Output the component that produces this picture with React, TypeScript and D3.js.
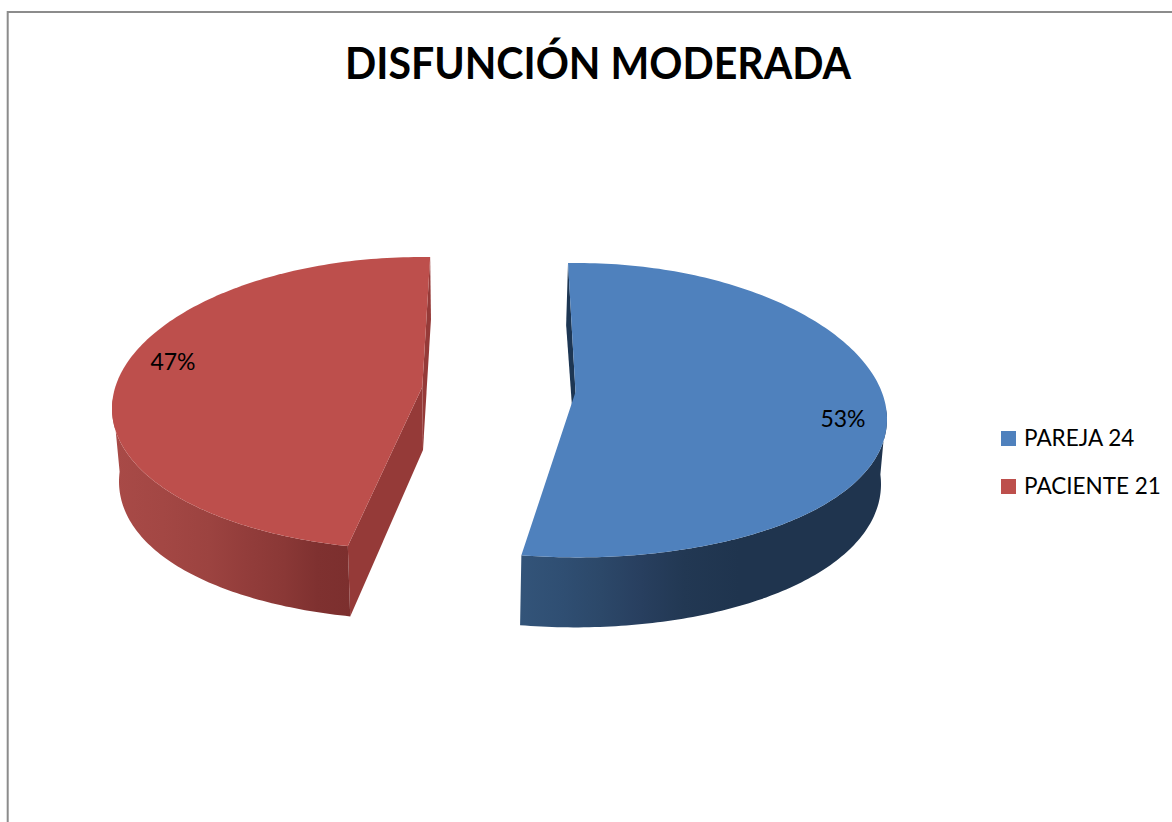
import React from "react";
import * as d3 from "d3";

const categories = ["PAREJA 24", "PACIENTE 21"];
const values = [24, 21];
const percentLabels = ["53%", "47%"];
const titleText = "DISFUNCIÓN MODERADA";

const FONT = "Lato, sans-serif";
const deg = Math.PI / 180;

type Geo = {
  cx: number; cy: number; rx: number; ry: number; phi: number;
  apex: [number, number]; apexDepth: number; sag: number;
  bcx: number; brx: number; bsag: number;
  wallFrom: number; wallTo: number;
  face: string; inner: string; grad: string; label: [number, number];
};

const geos: Geo[] = [
  { cx: 577, cy: 410.2, rx: 310, ry: 147.2, phi: -1.66, apex: [575.5, 392], apexDepth: 63, sag: 9,
    bcx: 575, brx: 306, bsag: 8,
    wallFrom: 88, wallTo: 192, face: "#4f81bd", inner: "#1d3653", grad: "gBlue", label: [843, 427] },
  { cx: 421, cy: 403.5, rx: 309, ry: 146.5, phi: 1.7, apex: [422.3, 387], apexDepth: 63, sag: 5,
    bcx: 422, brx: 303, bsag: 12,
    wallFrom: 192, wallTo: 272, face: "#bd4f4c", inner: "#953a38", grad: "gRed", label: [173, 370] },
];

const blueStops: [number, string][] = [
  [0, "#335479"], [0.12, "#2f4e72"], [0.22, "#2c4869"], [0.33, "#283f5f"], [0.45, "#223853"],
  [0.6, "#1f344e"], [1, "#1f344e"],
];
const redStops: [number, string][] = [
  [0, "#a84a47"], [0.2, "#a34744"], [0.4, "#9c4340"], [0.55, "#933d3b"], [0.72, "#8a3836"],
  [0.86, "#7f3130"], [1, "#7c2f2e"],
];

function rimTop(g: Geo, a: number): [number, number] {
  const t = (a + g.phi) * deg;
  return [g.cx + g.rx * Math.sin(t), g.cy - g.ry * Math.cos(t) + g.sag * Math.sin(t) ** 2];
}
function rimBottom(g: Geo, a: number): [number, number] {
  const t = (a + g.phi) * deg;
  const depth = 66 - 4 * Math.cos(t);
  return [
    g.bcx + g.brx * Math.sin(t),
    g.cy - g.ry * Math.cos(t) + g.bsag * Math.sin(t) ** 2 + depth,
  ];
}

const line = d3.line();

export default function App() {
  const pie = d3.pie<number>().sort(null)(values);
  const slices = pie.map((p, i) => {
    const g = geos[i];
    const a0 = p.startAngle / deg;
    const a1 = p.endAngle / deg;
    const samples = d3.range(a0, a1 + 0.01, 1).concat([a1]);
    const top = samples.map((a) => rimTop(g, a));
    const facePath = line([g.apex, ...top])! + "Z";
    const w0 = Math.max(a0, g.wallFrom);
    const w1 = Math.min(a1, g.wallTo);
    const ws = d3.range(w0, w1 + 0.01, 1).concat([w1]);
    const wallPath = line([...ws.map((a) => rimTop(g, a)), ...ws.slice().reverse().map((a) => rimBottom(g, a))])! + "Z";
    const apexB: [number, number] = [g.apex[0] + (i === 0 ? 0 : 0.7), g.apex[1] + g.apexDepth];
    const cutWalls: string[] = [];
    if (i === 0) {
      cutWalls.push(line([rimTop(g, a0), rimBottom(g, a0), apexB, g.apex])! + "Z");
    } else {
      cutWalls.push(line([rimTop(g, a1), rimBottom(g, a1), apexB, g.apex])! + "Z");
      cutWalls.push(line([rimTop(g, a0), rimBottom(g, a0), apexB, g.apex])! + "Z");
    }
    return { g, facePath, wallPath, cutWalls, i };
  });

  return (
    <svg
      width={1172}
      height={822}
      viewBox="0 0 1172 822"
      style={{ position: "fixed", left: 0, top: 0, background: "#fff" }}
    >
      <defs>
        <linearGradient id="gBlue" gradientUnits="userSpaceOnUse" x1={520} x2={885} y1={0} y2={0}>
          {blueStops.map(([o, c]) => <stop key={o} offset={o} stopColor={c} />)}
        </linearGradient>
        <linearGradient id="gRed" gradientUnits="userSpaceOnUse" x1={116} x2={350} y1={0} y2={0}>
          {redStops.map(([o, c]) => <stop key={o} offset={o} stopColor={c} />)}
        </linearGradient>
      </defs>

      <path d="M7.7 822V12H1172" fill="none" stroke="#8c8c8c" strokeWidth={2} />

      <text
        x={598}
        y={79}
        textAnchor="middle"
        fontFamily={FONT}
        fontWeight={700}
        fontSize={44}
        textLength={506}
        lengthAdjust="spacingAndGlyphs"
        fill="#000"
      >
        {titleText}
      </text>

      {slices.map(({ g, facePath, wallPath, cutWalls, i }) => (
        <g key={categories[i]}>
          {cutWalls.map((d) => <path key={d} d={d} fill={g.inner} />)}
          <path d={wallPath} fill={`url(#${g.grad})`} />
          <path d={facePath} fill={g.face} />
          <text x={g.label[0]} y={g.label[1]} textAnchor="middle" fontFamily={FONT} fontSize={23} fill="#000">
            {percentLabels[i]}
          </text>
        </g>
      ))}

      {categories.map((c, i) => (
        <g key={c}>
          <rect x={1001} y={431 + i * 48} width={15} height={15} fill={geos[i].face} />
          <text x={1024} y={446 + i * 48} fontFamily={FONT} fontSize={22.5} fill="#000">{c}</text>
        </g>
      ))}
    </svg>
  );
}
